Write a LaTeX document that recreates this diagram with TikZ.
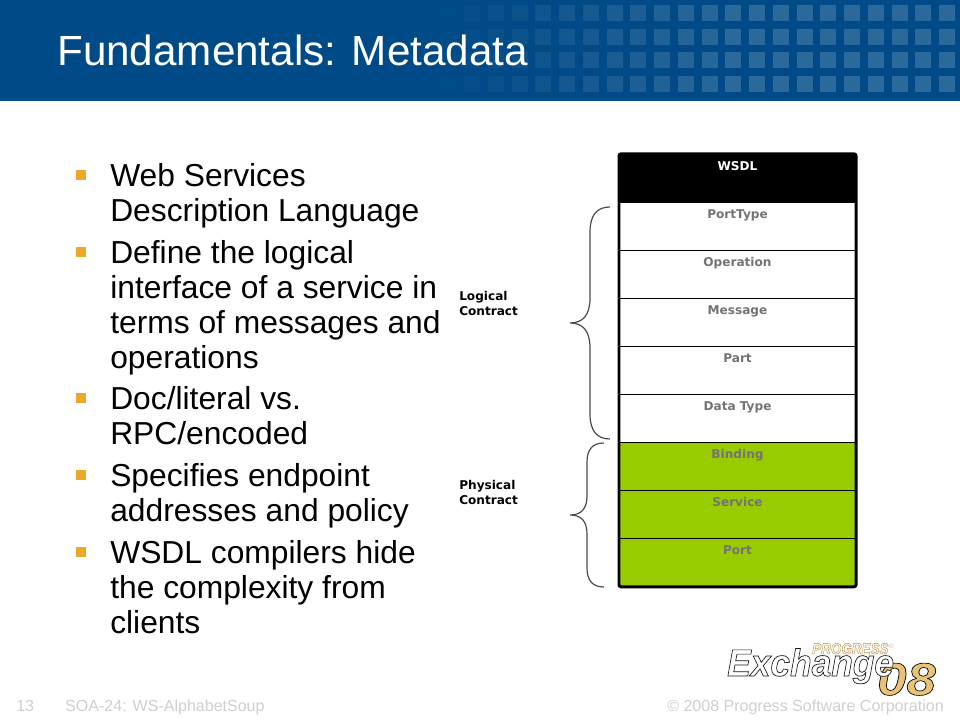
\documentclass[tikz,border=0pt]{standalone}
\usepackage{fontspec}
\setmainfont{Liberation Sans}
\newfontfamily\verdanafont{DejaVu Sans}
\usepackage{tikz}
\usetikzlibrary{positioning}
\definecolor{bandblue}{HTML}{004B87}
\definecolor{bulletgold}{HTML}{EBA92B}
\definecolor{cellgreen}{HTML}{99CC00}
\definecolor{footgray}{HTML}{CFCFCF}
\definecolor{logotan}{HTML}{E9C275}
% outlined text: stroke colour, then text
\newcommand{\strokedtext}[3]{\special{pdf:code #1 RG 2 Tr #2 w}#3\special{pdf:code 0 Tr}}

\begin{document}
\begin{tikzpicture}[
        x=0.025cm, y=-0.025cm,
        bullettext/.style={anchor=north west, inner sep=0pt, align=left, font=\fontsize{22.6}{24.9}\selectfont, execute at begin node=\strut},
        bulletmark/.style={fill=bulletgold, inner sep=0pt, minimum size=0.25cm},
        cellbox/.style={draw=black, line width=0.7pt, inner sep=0pt, minimum width=5.9cm, text height=0.41cm, text depth=0.79cm, text=black!55, font=\verdanafont\bfseries\fontsize{8.6}{10}\selectfont},
        contract/.style={anchor=west, inner sep=0pt, align=left, font=\verdanafont\bfseries\fontsize{8.6}{10}\selectfont},
        curlybrace/.style={draw=black!70, line width=0.85pt},
        foottext/.style={text=footgray, inner sep=0pt, font=\fontsize{11.4}{13}\selectfont}
        ]
        \useasboundingbox (0,0) rectangle (960,720);
        \fill[white] (0,0) rectangle (960,720);

        % header band
        \fill[bandblue] (0,0) rectangle (960,101);
        \foreach \row in {5,29,52,76} {
            \foreach \col in {0,...,22} {
                \pgfmathsetmacro{\sqx}{939-23.75*\col}
                \pgfmathsetmacro{\sqop}{0.17*min(1,max(0,(\sqx-430)/300))}
                \fill[white, opacity=\sqop] (\sqx,\row) rectangle ++(16,16);
            }
        }
        \node[anchor=base west, inner sep=0pt, text=white, font=\fontsize{30}{34}\selectfont] (title) at (57,66) {Fundamentals: Metadata};

        % bullets
        \node[bulletmark] (b1) at (81,175) {};
        \node[bulletmark] (b2) at (81,252) {};
        \node[bulletmark] (b3) at (81,398) {};
        \node[bulletmark] (b4) at (81,475) {};
        \node[bulletmark] (b5) at (81,552) {};
        \node[bullettext] (t1) at (110,163.5) {Web Services\\Description Language};
        \node[bullettext] (t2) at (110,240.5) {Define the logical\\interface of a service in\\terms of messages and\\operations};
        \node[bullettext] (t3) at (110,386.5) {Doc/literal vs.\\RPC/encoded};
        \node[bullettext] (t4) at (110,463.5) {Specifies endpoint\\addresses and policy};
        \node[bullettext] (t5) at (110,540.5) {WSDL compilers hide\\the complexity from\\clients};

        % WSDL table
        \node[cellbox, fill=black, text=white] (wsdl) at (737.5,178.3) {WSDL};
        \node[cellbox, fill=white] (porttype) at (737.5,226.3) {PortType};
        \node[cellbox, fill=white] (operation) at (737.5,274.3) {Operation};
        \node[cellbox, fill=white] (message) at (737.5,322.3) {Message};
        \node[cellbox, fill=white] (part) at (737.5,370.3) {Part};
        \node[cellbox, fill=white] (datatype) at (737.5,418.3) {Data Type};
        \node[cellbox, fill=cellgreen] (binding) at (737.5,466.3) {Binding};
        \node[cellbox, fill=cellgreen] (service) at (737.5,514.3) {Service};
        \node[cellbox, fill=cellgreen] (port) at (737.5,562.3) {Port};
        \draw[black, line width=2.1pt, rounded corners=1.5pt] (wsdl.north west) rectangle (port.south east);

        % contracts
        \node[contract] (logical) at (459,303.5) {Logical\\Contract};
        \node[contract] (physical) at (459,492.5) {Physical\\Contract};
        \draw[curlybrace] (610,207) .. controls (597,207) and (590,215) .. (590,232) -- (590,298) .. controls (590,315) and (583,323) .. (570,323) .. controls (583,323) and (590,331) .. (590,348) -- (590,414) .. controls (590,431) and (597,439) .. (610,439);
        \draw[curlybrace] (604,443) .. controls (593,443) and (587,449) .. (587,462) -- (587,496) .. controls (587,509) and (581,515) .. (570,515) .. controls (581,515) and (587,521) .. (587,534) -- (587,568) .. controls (587,581) and (593,587) .. (604,587);

        % footer
        \node[foottext, anchor=base west] (pagenum) at (16,711) {13};
        \node[foottext, anchor=base west] (talk) at (65,711) {SOA-24: WS-AlphabetSoup};
        \node[foottext, anchor=base east] (copyright) at (944,711) {© 2008 Progress Software Corporation};

        % logo
        \node[anchor=base west, inner sep=0pt, xscale=1.15, text=logotan, font=\bfseries\itshape\fontsize{32.5}{34}\selectfont] (year) at (877,695) {\strokedtext{0 0 0}{0.45}{08}};
        \node[anchor=base west, inner sep=0pt, xscale=0.87, text=white, font=\bfseries\itshape\fontsize{11}{12}\selectfont] (progress) at (812,654) {\strokedtext{0.72 0.56 0.25}{0.35}{PROGRESS}};
        \node[anchor=base west, inner sep=0pt, text=logotan, font=\fontsize{4.5}{5}\selectfont] (regmark) at (889,648) {®};
        \node[anchor=base west, inner sep=0pt, xscale=0.93, text=white, font=\bfseries\itshape\fontsize{27}{30}\selectfont] (exchange) at (727,676) {\strokedtext{0.1 0.1 0.1}{0.5}{Exchange}};
\end{tikzpicture}
\end{document}
